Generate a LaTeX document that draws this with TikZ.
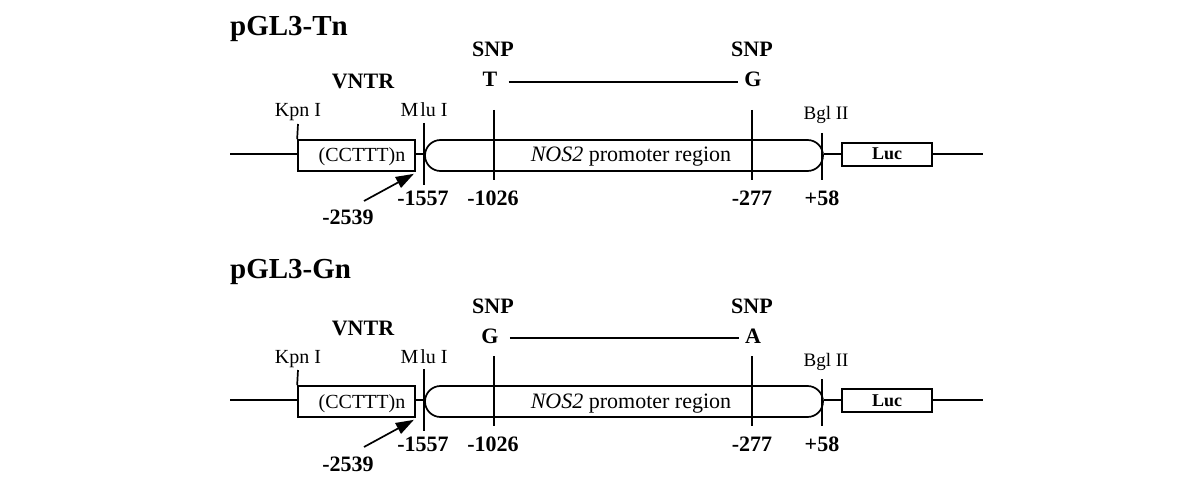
\documentclass[tikz,border=0pt]{standalone}
\usepackage{fontspec}
\setmainfont{Liberation Serif}
\usetikzlibrary{arrows.meta}
\tikzset{
 ln/.style={line width=1.7pt},
 boxst/.style={draw, line width=1.7pt, inner sep=0pt},
 reg/.style={font=\fontsize{20}{24}\selectfont, inner sep=0pt, anchor=base},
 bld/.style={font=\fontsize{22}{26}\selectfont\bfseries, inner sep=0pt, anchor=base},
 ttl/.style={font=\fontsize{29}{33}\selectfont\bfseries, inner sep=0pt, anchor=base west},
 allele/.style={bld, text height=14pt, text depth=0pt},
}
\newcommand\drawpanel[7]{%
\begin{scope}[yshift=-#2pt]
 \node[ttl] (#1title) at (230,{36+#7}) {#3};
 \node[bld] (#1snpA) at (493,{57+#6}) {SNP};
 \node[bld] (#1snpB) at (752,{57+#6}) {SNP};
 \node[allele] (#1a1) at (490,{87+#6}) {#4};
 \node[allele] (#1a2) at (753,{87+#6}) {#5};
 \draw[ln] ([shift={(11,2)}]#1a1.east) -- ([shift={(-6,2)}]#1a2.west);
 \node[bld] (#1vntrlbl) at (363,89) {VNTR};
 \node[reg] (#1kpn) at (298,117) {Kpn I};
 \node[reg] (#1mlu) at (424,117) {M\kern2pt lu I};
 \node[reg, font=\fontsize{19}{23}\selectfont] (#1bgl) at (826,120) {Bgl II};
 \node[boxst, minimum width=117pt, minimum height=31pt] (#1vntr) at (356.5,155.5) {};
 \node[reg] (#1rep) at (362,162) {(CCTTT)n};
 \node[boxst, rounded corners=15.5pt, minimum width=398pt, minimum height=31pt] (#1prom) at (624,155.5) {};
 \node[reg, font=\fontsize{22}{26}\selectfont] (#1promlbl) at (631,162) {\textit{NOS2} promoter region};
 \node[boxst, minimum width=90pt, minimum height=23pt] (#1luc) at (887,154.5) {};
 \node[bld, font=\fontsize{18}{22}\selectfont\bfseries] (#1luclbl) at (887,160) {Luc};
 \coordinate (#1L) at (230,154);
 \coordinate (#1R) at (983,154);
 \draw[ln] (#1L) -- (#1vntr.west |- #1L);
 \draw[ln] (#1vntr.east |- #1L) -- (#1prom.west |- #1L);
 \draw[ln] (#1prom.east |- #1L) -- (#1luc.west |- #1L);
 \draw[ln] (#1luc.east |- #1L) -- (#1R);
 \coordinate (#1kpnT) at (298,124);
 \draw[ln] (#1kpnT) -- (#1vntr.north west);
 \coordinate (#1mluT) at (424,123); \coordinate (#1mluB) at (424,185);
 \draw[ln] (#1mluT) -- (#1mluB);
 \coordinate (#1sAT) at (494,110); \coordinate (#1sAB) at (494,180);
 \draw[ln] (#1sAT) -- (#1sAB);
 \coordinate (#1sBT) at (752,110); \coordinate (#1sBB) at (752,180);
 \draw[ln] (#1sBT) -- (#1sBB);
 \coordinate (#1bglT) at (822,133); \coordinate (#1bglB) at (822,180);
 \draw[ln] (#1bglT) -- (#1bglB);
 \node[bld] (#1n1557) at (423,205) {-1557};
 \node[bld] (#1n1026) at (493,205) {-1026};
 \node[bld] (#1n277) at (752,205) {-277};
 \node[bld] (#1n58) at (822,205) {+58};
 \node[bld] (#1n2539) at (348,225) {-2539};
 \coordinate (#1arrT) at (364,201);
 \draw[ln, -{Triangle[length=18pt,width=12pt]}] (#1arrT) -- ([shift={(-2,2)}]#1vntr.south east);
\end{scope}}
\begin{document}
\begin{tikzpicture}[x=1pt, y=-1pt]
 \useasboundingbox[fill=white] (0,0) rectangle (1200,484);
 \drawpanel{t}{0}{pGL3-Tn}{T}{G}{0}{0}
 \drawpanel{b}{246}{pGL3-Gn}{G}{A}{10}{-4}
\end{tikzpicture}
\end{document}
